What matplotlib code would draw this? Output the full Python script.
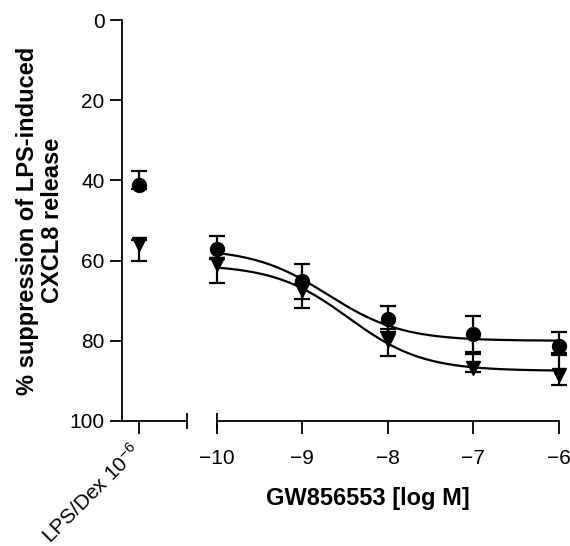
import numpy as np
import matplotlib
matplotlib.use("Agg")
import matplotlib.pyplot as plt
from matplotlib.transforms import ScaledTranslation

plt.rcParams['font.family'] = ['Liberation Sans', 'DejaVu Sans']
plt.rcParams['mathtext.fontset'] = 'custom'
plt.rcParams['mathtext.rm'] = 'Liberation Sans'
plt.rcParams['mathtext.it'] = 'Liberation Sans:italic'
plt.rcParams['mathtext.bf'] = 'Liberation Sans:bold'

# ---- data ----
log_conc = [-10, -9, -8, -7, -6]
ctrl_label = 'LPS/Dex $10^{-6}$'

circ_ctrl = 41.1
circ_ctrl_err_minus = 3.4
circ_ctrl_err_plus = 1.0
circ_vals = [57.1, 65.2, 74.6, 78.3, 81.4]
circ_err_minus = [3.3, 4.3, 3.35, 4.4, 3.65]
circ_err_plus = [2.5, 4.3, 3.3, 4.4, 1.6]

tri_ctrl = 55.9
tri_ctrl_err_minus = 1.0
tri_ctrl_err_plus = 4.3
tri_vals = [60.8, 67.3, 79.9, 86.8, 88.5]
tri_err_minus = [1.5, 1.5, 2.8, 3.4, 5.0]
tri_err_plus = [4.7, 4.6, 4.0, 1.0, 2.5]

# fitted 4-parameter logistic curves (bottom, top, logEC50, hill)
circ_fit = (57.0, 80.0, -8.7, 1.0)
tri_fit = (61.0, 87.5, -8.46, 1.0)

y_ticks = [0, 20, 40, 60, 80, 100]


def four_pl(x, p):
    b, t, ec, h = p
    return b + (t - b) / (1 + 10 ** ((ec - x) * h))


W, H = 570, 546
fig = plt.figure(figsize=(W / 100, H / 100), dpi=100)

y_bot = (H - 421) / H
y_h = (421 - 20) / H
axL = fig.add_axes([122 / W, y_bot, 65 / W, y_h])
axR = fig.add_axes([216.7 / W, y_bot, 342 / W, y_h])

lw_axis = 1.3
for ax in (axL, axR):
    ax.set_ylim(100, 0)
    ax.spines['top'].set_visible(False)
    ax.spines['right'].set_visible(False)
    ax.spines['bottom'].set_linewidth(lw_axis)
    ax.spines['left'].set_linewidth(lw_axis)
    ax.patch.set_alpha(0)

axR.spines['left'].set_visible(False)
axR.tick_params(axis='y', left=False, labelleft=False)

# left axis (control)
axL.set_xlim(-1, 2.82)
axL.set_yticks(y_ticks)
axL.tick_params(axis='y', direction='out', length=8.6, width=lw_axis,
                labelsize=15, pad=4)
axL.set_xticks([0])
axL.set_xticklabels([ctrl_label], rotation=45, ha='right', va='top',
                    rotation_mode='anchor', fontsize=15)
axL.tick_params(axis='x', which='major', direction='out', length=9,
                width=lw_axis, pad=3)
for lab in axL.get_xticklabels():
    lab.set_transform(lab.get_transform() +
                      ScaledTranslation(-10 / 100, -2 / 100, fig.dpi_scale_trans))
axL.xaxis.remove_overlapping_locs = False
axL.set_xticks([2.82], minor=True)
axL.tick_params(axis='x', which='minor', direction='inout', length=11,
                width=lw_axis)

# right axis (concentrations)
axR.set_xlim(-10, -6)
axR.set_xticks(log_conc)
axR.tick_params(axis='x', which='major', direction='out', length=9,
                width=lw_axis, labelsize=15, pad=11)
axR.xaxis.remove_overlapping_locs = False
axR.set_xticks([-10], minor=True)
axR.tick_params(axis='x', which='minor', direction='inout', length=12,
                width=lw_axis)

# curves
xs = np.linspace(-10, -6, 300)
axR.plot(xs, four_pl(xs, circ_fit), color='black', lw=1.6, zorder=2)
axR.plot(xs, four_pl(xs, tri_fit), color='black', lw=1.6, zorder=2)

eb_kw = dict(ecolor='black', elinewidth=1.6, capsize=5.5, capthick=1.6,
             linestyle='none', color='black', clip_on=False, zorder=3)

axR.errorbar(log_conc, circ_vals, yerr=[circ_err_minus, circ_err_plus],
             marker='o', markersize=10, **eb_kw)
axR.errorbar(log_conc, tri_vals, yerr=[tri_err_minus, tri_err_plus],
             marker='v', markersize=10, **eb_kw)

axL.errorbar([0], [circ_ctrl], yerr=[[circ_ctrl_err_minus], [circ_ctrl_err_plus]],
             marker='o', markersize=10, **eb_kw)
axL.errorbar([0], [tri_ctrl], yerr=[[tri_ctrl_err_minus], [tri_ctrl_err_plus]],
             marker='v', markersize=10, **eb_kw)

# labels
fig.text(367.5 / W, (H - 498) / H, 'GW856553 [log M]', ha='center', va='center',
         fontsize=17, fontweight='bold')
fig.text(40 / W, (H - 220.5) / H, '% suppression of LPS-induced\nCXCL8 release',
         ha='center', va='center', rotation=90, fontsize=17, fontweight='bold',
         multialignment='center', linespacing=1.1)

fig.savefig('out.png', dpi=100)
